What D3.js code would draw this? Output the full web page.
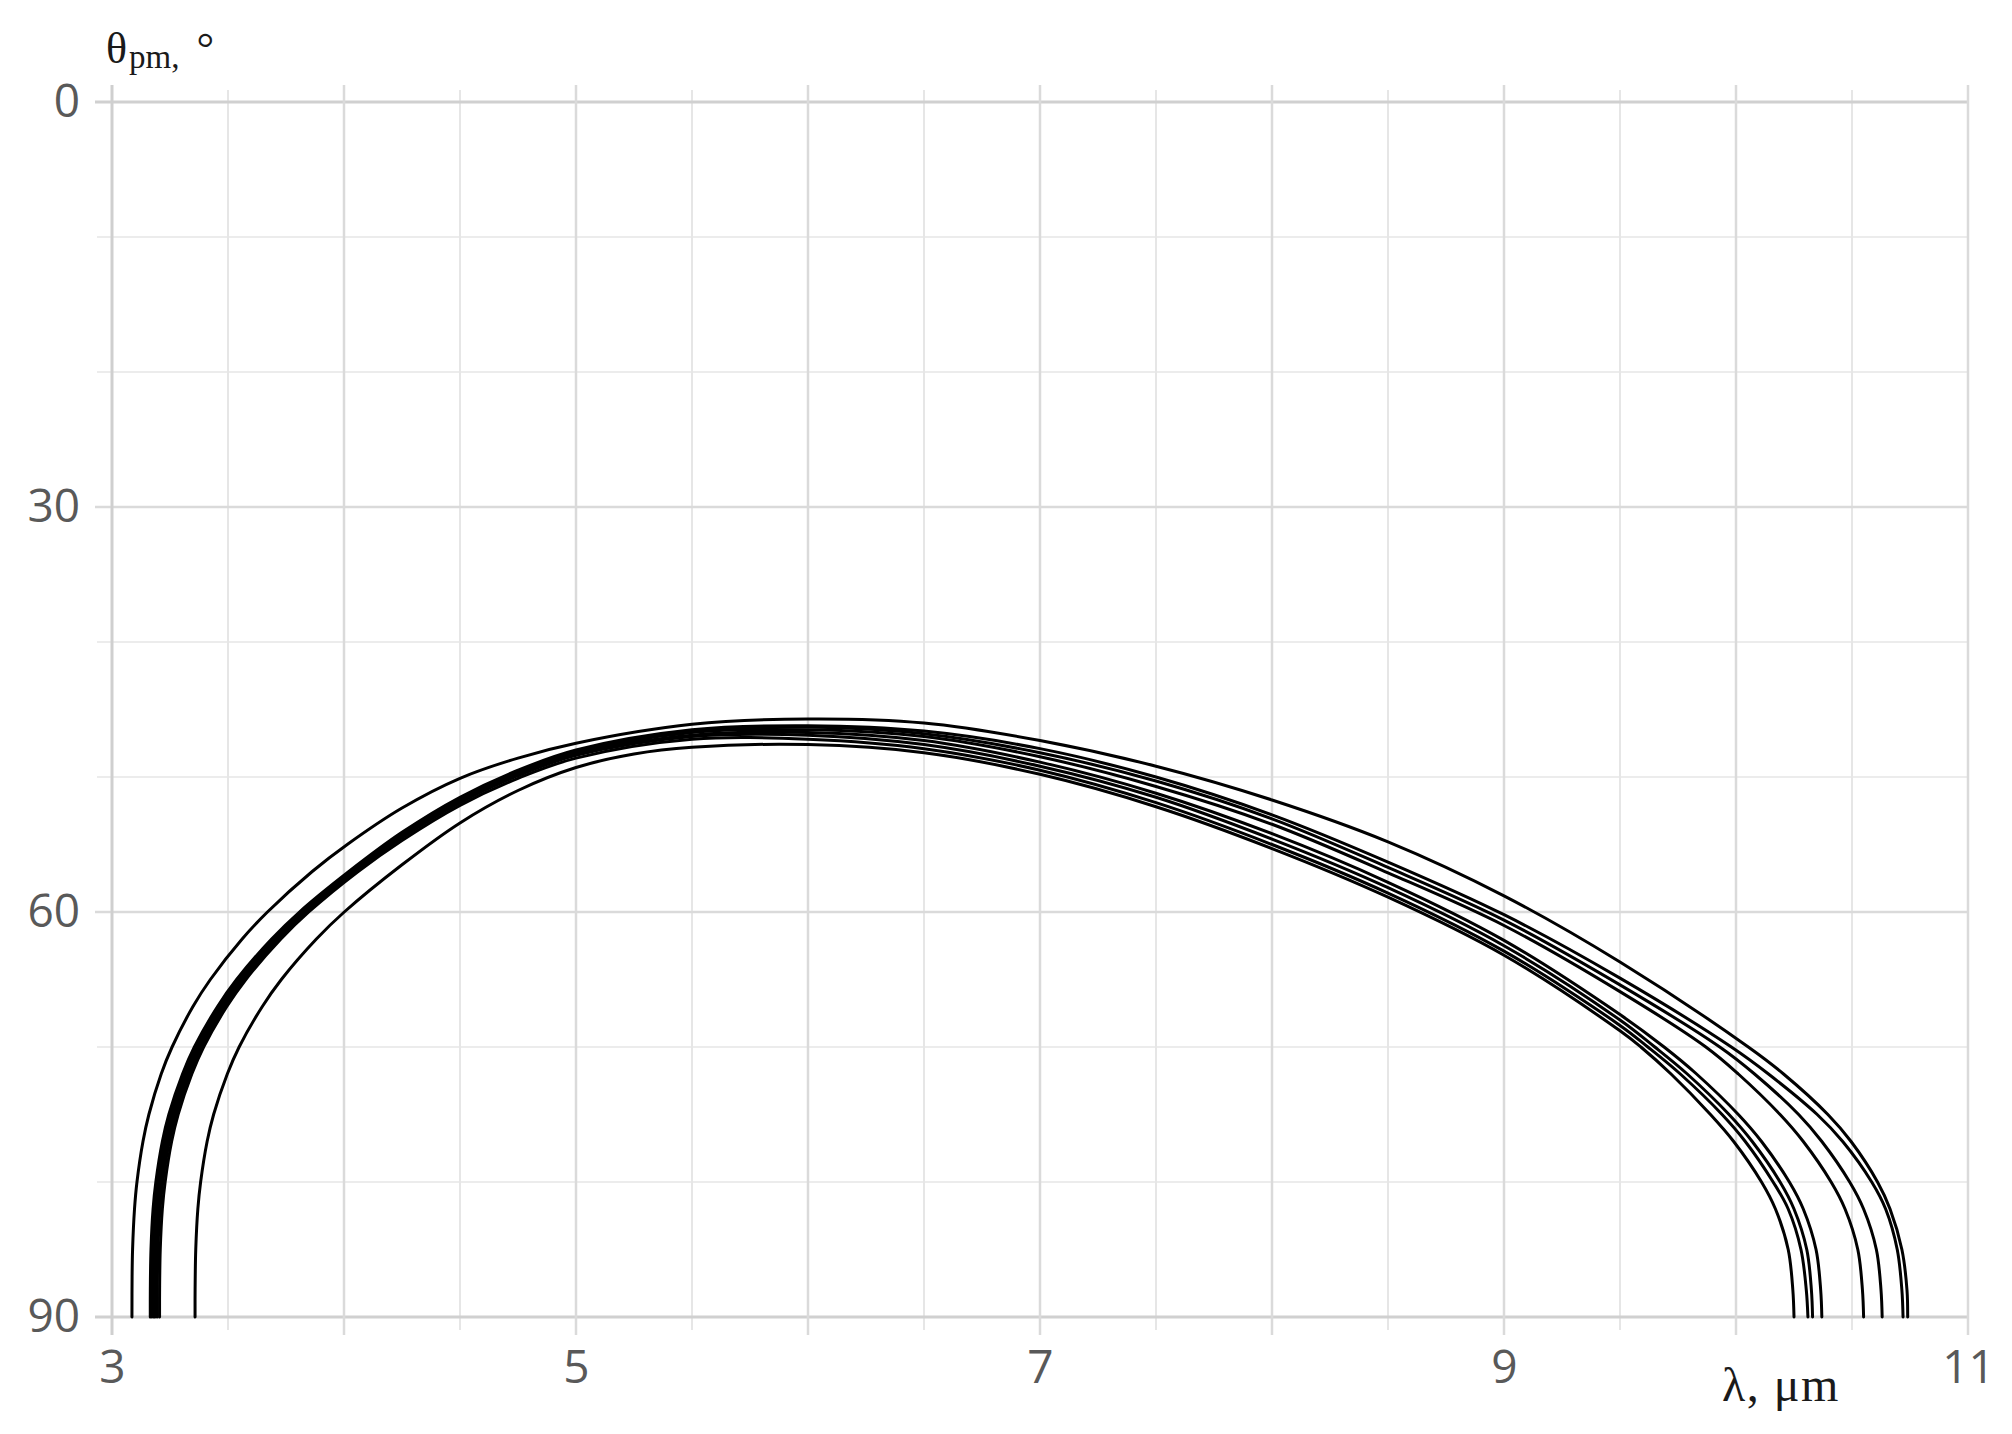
<!DOCTYPE html>
<html>
<head>
<meta charset="utf-8">
<script src="https://cdn.jsdelivr.net/npm/d3@7"></script>
<style>
  html, body { margin: 0; padding: 0; background: #ffffff; }
  svg { display: block; }
</style>
</head>
<body>
<script>
// ---- Data ----
const lambdaTicks = [3, 5, 7, 9, 11];          // x tick labels, µm
const thetaTicks = [0, 30, 60, 90];            // y tick labels, degrees
const lambdaGridMajor = [3, 4, 5, 6, 7, 8, 9, 10, 11];
const lambdaGridMinor = [3.5, 4.5, 5.5, 6.5, 7.5, 8.5, 9.5, 10.5];
const thetaGridMajor = [0, 30, 60, 90];
const thetaGridMinor = [10, 20, 40, 50, 70, 80];

// Each curve: [lambda (µm), theta_pm (deg)]
const curve1 = [[3.086,90],[3.0866,87],[3.0887,85],[3.097,82],[3.1076,80],[3.1335,77],[3.159,75],[3.212,72],[3.259,70],[3.349,67],[3.424,65],[3.561,62],[3.67,60],[3.863,57],[4.014,55],
  [4.25,52.3],[4.5,50.1],[4.75,48.6],[5,47.5],[5.5,46.1],[6,45.7],[6.5,46.0],[7,47.3],[7.5,49.2],[8,51.7],[8.5,54.8],[9,58.8],[9.5,63.7],
  [10.053,70],[10.205,72],[10.396,75],[10.496,77],[10.61,80],[10.664,82],[10.715,85],[10.737,88],[10.74,90]];
const curve2 = [[3.165,90],[3.1652,88],[3.168,85],[3.177,82],[3.189,80],[3.217,77],[3.245,75],[3.304,72],[3.355,70],[3.455,67],[3.537,65],[3.688,62],[3.808,60],[4.021,57],
  [4.25,54.1],[4.5,51.5],[4.75,49.5],[5,48.0],[5.5,46.5],[6,46.2],[6.5,46.6],[7,47.9],[7.5,50.0],[8,52.8],[8.5,56.3],[9,60.2],[9.5,64.9],
  [9.98,70],[10.14,72],[10.35,75],[10.46,77],[10.585,80],[10.645,82],[10.695,85],[10.715,88],[10.72,90]];
const curve3 = [[3.172,90],[3.1722,88],[3.175,85],[3.184,82],[3.196,80],[3.224,77],[3.252,75],[3.311,72],[3.362,70],[3.462,67],[3.544,65],[3.695,62],[3.815,60],[4.028,57],
  [4.25,54.2],[4.5,51.6],[4.75,49.6],[5,48.1],[5.5,46.6],[6,46.3],[6.5,46.8],[7,48.2],[7.5,50.3],[8,53.1],[8.5,56.7],[9,60.6],[9.5,65.4],
  [9.93,70],[10.08,72],[10.27,75],[10.37,77],[10.49,80],[10.55,82],[10.605,85],[10.625,88],[10.63,90]];
const curve4 = [[3.18,90],[3.1802,88],[3.183,85],[3.192,82],[3.204,80],[3.232,77],[3.26,75],[3.319,72],[3.37,70],[3.47,67],[3.552,65],[3.703,62],[3.823,60],[4.036,57],
  [4.25,54.3],[4.5,51.7],[4.75,49.7],[5,48.2],[5.5,46.7],[6,46.5],[6.5,47.0],[7,48.5],[7.5,50.7],[8,53.5],[8.5,57.1],[9,61.0],[9.5,65.9],
  [9.87,70],[10.01,72],[10.19,75],[10.29,77],[10.41,80],[10.47,82],[10.525,85],[10.545,88],[10.55,90]];
const curve5 = [[3.186,90],[3.1862,88],[3.189,85],[3.198,82],[3.21,80],[3.238,77],[3.266,75],[3.325,72],[3.376,70],[3.476,67],[3.558,65],[3.709,62],[3.829,60],[4.042,57],
  [4.25,54.4],[4.5,51.8],[4.75,49.8],[5,48.3],[5.5,46.9],[6,46.7],[6.5,47.3],[7,48.9],[7.5,51.2],[8,54.2],[8.5,57.8],[9,62.1],[9.5,67.6],
  [9.69,70],[9.83,72],[10.01,75],[10.11,77],[10.23,80],[10.29,82],[10.345,85],[10.365,88],[10.37,90]];
const curve6 = [[3.195,90],[3.1952,88],[3.198,85],[3.207,82],[3.219,80],[3.247,77],[3.275,75],[3.334,72],[3.385,70],[3.485,67],[3.567,65],[3.718,62],[3.838,60],[4.051,57],
  [4.25,54.5],[4.5,51.9],[4.75,49.9],[5,48.4],[5.5,47.0],[6,46.9],[6.5,47.6],[7,49.2],[7.5,51.5],[8,54.6],[8.5,58.2],[9,62.5],[9.5,68.0],
  [9.65,70],[9.79,72],[9.97,75],[10.07,77],[10.19,80],[10.25,82],[10.305,85],[10.325,88],[10.33,90]];
const curve7 = [[3.205,90],[3.2052,88],[3.208,85],[3.217,82],[3.229,80],[3.257,77],[3.285,75],[3.344,72],[3.395,70],[3.495,67],[3.577,65],[3.728,62],[3.848,60],[4.061,57],
  [4.25,54.7],[4.5,52.1],[4.75,50.1],[5,48.6],[5.5,47.2],[6,47.2],[6.5,47.9],[7,49.5],[7.5,51.9],[8,55.0],[8.5,58.6],[9,62.9],[9.5,68.4],
  [9.62,70],[9.76,72],[9.94,75],[10.04,77],[10.16,80],[10.225,82],[10.28,85],[10.303,88],[10.31,90]];
const curve8 = [[3.358,90],[3.3582,88],[3.361,85],[3.37,82],[3.382,80],[3.41,77],[3.438,75],[3.497,72],[3.548,70],[3.648,67],[3.73,65],[3.881,62],[4.001,60],
  [4.25,56.5],[4.5,53.4],[4.75,51.0],[5,49.3],[5.25,48.3],[5.5,47.8],[6,47.6],[6.5,48.2],[7,49.8],[7.5,52.2],[8,55.3],[8.5,58.9],[9,63.2],[9.5,68.8],
  [9.59,70],[9.72,72],[9.89,75],[9.99,77],[10.11,80],[10.17,82],[10.225,85],[10.245,88],[10.25,90]];
const curves = [curve1, curve2, curve3, curve4, curve5, curve6, curve7, curve8];

// ---- Chart ----
const W = 2012, H = 1434;
const svg = d3.select("body").append("svg").attr("width", W).attr("height", H);

const x = d3.scaleLinear().domain([3, 11]).range([112, 1968]);
const y = d3.scaleLinear().domain([0, 90]).range([102, 1317]);

const grid = svg.append("g");
grid.selectAll(".hmin").data(thetaGridMinor).join("line")
  .attr("x1", x(3) - 15).attr("x2", x(11))
  .attr("y1", d => y(d)).attr("y2", d => y(d))
  .attr("stroke", "#ececec").attr("stroke-width", 2);
grid.selectAll(".vmin").data(lambdaGridMinor).join("line")
  .attr("x1", d => x(d)).attr("x2", d => x(d))
  .attr("y1", y(0) - 12).attr("y2", y(90) + 13)
  .attr("stroke", "#e6e6e6").attr("stroke-width", 2);
grid.selectAll(".hmaj").data(thetaGridMajor).join("line")
  .attr("x1", x(3) - 17).attr("x2", x(11))
  .attr("y1", d => y(d)).attr("y2", d => y(d))
  .attr("stroke", d => (d === 0 || d === 90) ? "#d0d0d0" : "#dadada")
  .attr("stroke-width", d => (d === 0 || d === 90) ? 3 : 2.5);
grid.selectAll(".vmaj").data(lambdaGridMajor).join("line")
  .attr("x1", d => x(d)).attr("x2", d => x(d))
  .attr("y1", y(0) - 17).attr("y2", y(90) + 18)
  .attr("stroke", d => d === 3 ? "#cfcfcf" : "#dadada")
  .attr("stroke-width", d => d === 3 ? 3 : 2.5);

// curves
const line = d3.line()
  .x(d => x(d[0])).y(d => y(d[1]))
  .curve(d3.curveCatmullRom.alpha(0.5));
svg.append("g").selectAll("path").data(curves).join("path")
  .attr("d", line)
  .attr("fill", "none")
  .attr("stroke", "#000")
  .attr("stroke-width", 3)
  .attr("stroke-linecap", "round");

// tick labels via d3 axes
const yAxis = d3.axisLeft(y).tickValues(thetaTicks).tickSize(0).tickPadding(0).tickFormat(d3.format("d"));
const gy = svg.append("g").attr("transform", "translate(80,0)").call(yAxis);
gy.select(".domain").remove();
gy.selectAll("text").attr("font-family", "'Open Sans', sans-serif").attr("font-size", 46).attr("fill", "#595959");

const xAxis = d3.axisBottom(x).tickValues(lambdaTicks).tickSize(0).tickPadding(0).tickFormat(d3.format("d"));
const gx = svg.append("g").attr("transform", "translate(0,1350)").call(xAxis);
gx.select(".domain").remove();
gx.selectAll("text").attr("font-family", "'Open Sans', sans-serif").attr("font-size", 46).attr("fill", "#595959");

// axis titles
const yt = svg.append("text").attr("x", 106).attr("y", 63)
  .attr("font-family", "'Liberation Serif', 'Times New Roman', serif")
  .attr("font-size", 44).attr("fill", "#1a1a1a");
yt.append("tspan").text("θ");
yt.append("tspan").attr("font-size", 33).attr("dy", 5).attr("dx", 2).text("pm,");
yt.append("tspan").attr("dy", -5).attr("dx", 6).text(" °");

svg.append("text").attr("x", 1722).attr("y", 1401)
  .attr("font-family", "'Liberation Serif', 'Times New Roman', serif")
  .attr("font-size", 48).attr("fill", "#1a1a1a")
  .attr("letter-spacing", 1.5)
  .text("λ, μm");
</script>
</body>
</html>
